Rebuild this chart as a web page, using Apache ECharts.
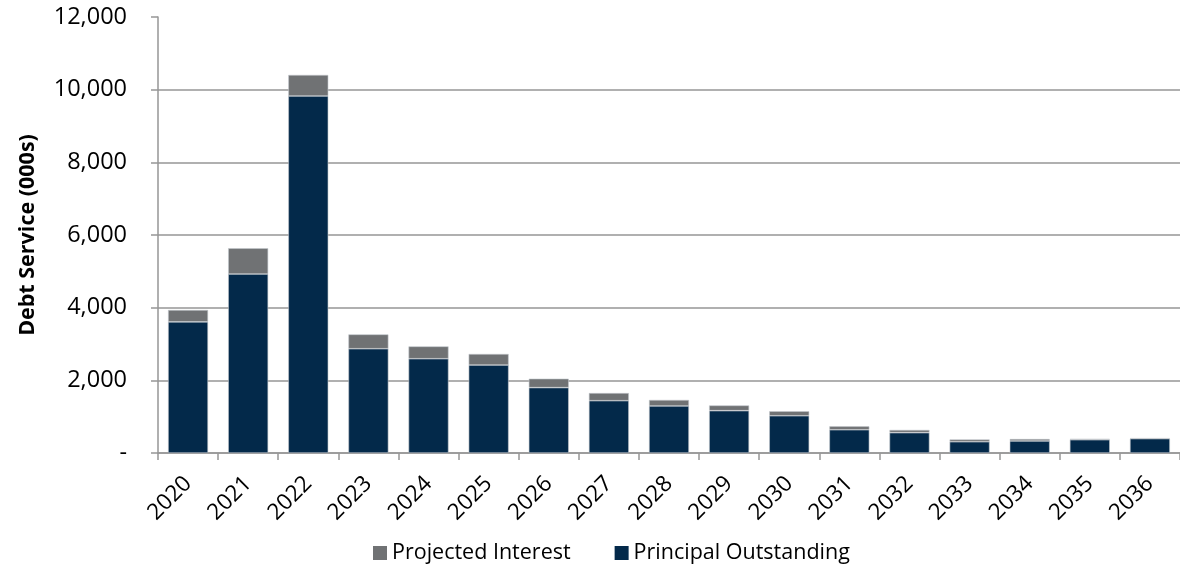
<!DOCTYPE html>
<html>
<head>
<meta charset="utf-8">
<script src="https://cdn.jsdelivr.net/npm/echarts@6/dist/echarts.min.js"></script>
<style>
  html, body { margin: 0; padding: 0; background: #fff; }
  #chart { width: 1180px; height: 571px; }
</style>
</head>
<body>
<div id="chart"></div>
<script>
// Annual debt service schedule, in thousands
const years = ['2020', '2021', '2022', '2023', '2024', '2025', '2026', '2027', '2028',
               '2029', '2030', '2031', '2032', '2033', '2034', '2035', '2036'];
const principalOutstanding = [3610, 4925, 9825, 2870, 2595, 2420, 1800, 1440, 1295,
                              1165, 1025, 640, 560, 310, 330, 365, 395];
const projectedInterest = [325, 710, 580, 395, 340, 305, 245, 210, 165,
                           145, 125, 95, 75, 65, 55, 25, 10];
const yTickLabels = ['-', '2,000', '4,000', '6,000', '8,000', '10,000', '12,000'];

const FONT = '"Open Sans", "Liberation Sans", sans-serif';
const GRID_GREY = '#969696';

const chart = echarts.init(document.getElementById('chart'), null, { renderer: 'canvas' });

chart.setOption({
  animation: false,
  backgroundColor: '#ffffff',
  textStyle: { fontFamily: FONT },
  grid: { left: 158, top: 17, width: 1035, height: 436, containLabel: false },
  legend: {
    data: ['Projected Interest', 'Principal Outstanding'],
    bottom: 2,
    left: 368,
    itemWidth: 14,
    itemHeight: 14,
    itemGap: 44,
    icon: 'rect',
    itemStyle: { borderWidth: 0 },
    textStyle: { fontFamily: FONT, fontSize: 21.5, color: '#000' }
  },
  xAxis: {
    type: 'category',
    data: years,
    boundaryGap: true,
    axisLine: { lineStyle: { color: GRID_GREY, width: 1.5 } },
    axisTick: { show: true, length: 7, lineStyle: { color: GRID_GREY, width: 1.5 } },
    axisLabel: {
      rotate: 45,
      interval: 0,
      margin: 27,
      fontFamily: FONT,
      fontSize: 22.5,
      color: '#000'
    }
  },
  yAxis: {
    type: 'value',
    min: 0,
    max: 12000,
    interval: 2000,
    name: 'Debt Service (000s)',
    nameLocation: 'middle',
    nameGap: 119,
    nameTextStyle: { fontFamily: FONT, fontSize: 21.5, fontWeight: 'bold', color: '#000' },
    axisLine: { show: true, lineStyle: { color: GRID_GREY, width: 1.5 } },
    axisTick: { show: true, length: 7, lineStyle: { color: GRID_GREY, width: 1.5 } },
    axisLabel: {
      margin: 31,
      fontFamily: FONT,
      fontSize: 23.5,
      color: '#000',
      formatter: (v, i) => yTickLabels[i]
    },
    splitLine: { show: true, showMaxLine: false, lineStyle: { color: GRID_GREY, width: 1.5 } }
  },
  series: [
    {
      name: 'Principal Outstanding',
      type: 'bar',
      stack: 'debt',
      data: principalOutstanding,
      barWidth: 40,
      itemStyle: { color: '#03294a', borderColor: '#c3c8cd', borderWidth: 0.6 }
    },
    {
      name: 'Projected Interest',
      type: 'bar',
      stack: 'debt',
      data: projectedInterest,
      barWidth: 40,
      itemStyle: { color: '#707274', borderColor: '#c3c8cd', borderWidth: 0.6 }
    }
  ]
});
</script>
</body>
</html>
